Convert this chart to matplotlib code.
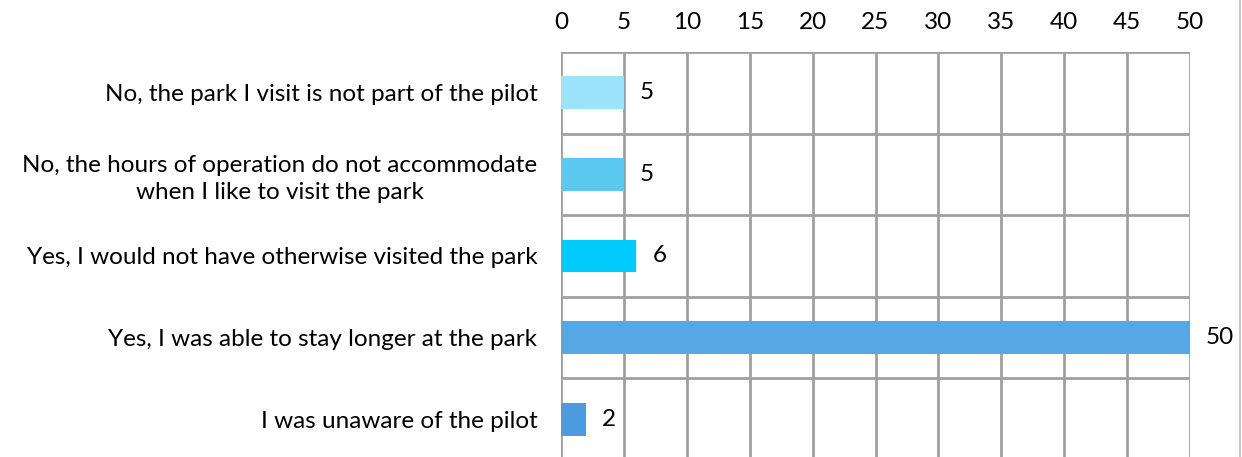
import matplotlib
matplotlib.use("Agg")
import matplotlib.pyplot as plt
from matplotlib.lines import Line2D

categories = [
    "No, the park I visit is not part of the pilot",
    "No, the hours of operation do not accommodate\nwhen I like to visit the park",
    "Yes, I would not have otherwise visited the park",
    "Yes, I was able to stay longer at the park",
    "I was unaware of the pilot",
]
values = [5, 5, 6, 50, 2]
colors = ["#9BE3FB", "#5BC8EF", "#00CBFC", "#55A8E4", "#4C9BE0"]
xticks = [0, 5, 10, 15, 20, 25, 30, 35, 40, 45, 50]

plt.rcParams['font.family'] = ['Lato', 'DejaVu Sans']
FS = 17.5
W, H = 1242, 457
fig = plt.figure(figsize=(W / 100, H / 100), dpi=100)
ax = fig.add_axes([561 / W, 1 - 460 / H, (1190 - 561) / W, (460 - 52) / H])

y = list(range(len(categories)))
ax.barh(y, values, height=0.4, color=colors, zorder=3)
ax.set_xlim(0, 50)
ax.set_ylim(len(categories) - 0.5, -0.5)

grid_c = "#A0A0A0"
for xt in xticks:
    ax.axvline(xt, color=grid_c, lw=2, zorder=1)
for b in [i - 0.5 for i in range(len(categories))]:
    ax.axhline(b, color=grid_c, lw=2, zorder=1)

for s in ax.spines.values():
    s.set_visible(False)
ax.xaxis.tick_top()
ax.set_xticks(xticks)
ax.set_xticklabels([str(t) for t in xticks], fontsize=FS)
ax.tick_params(axis='x', length=0, pad=14)
ax.set_yticks(y)
ax.set_yticklabels(categories, fontsize=FS, multialignment='center', linespacing=1.35)
ax.tick_params(axis='y', length=0, pad=17)

for yi, v in zip(y, values):
    ax.annotate(str(v), (v, yi), xytext=(16, 0), textcoords='offset pixels',
                va='center', ha='left', fontsize=FS, clip_on=False)

fig.add_artist(Line2D([1239.5 / W, 1239.5 / W], [0, 1], color="#C8C8C8", lw=1.5,
                      transform=fig.transFigure))

fig.savefig("out.png", dpi=100, facecolor="white")
